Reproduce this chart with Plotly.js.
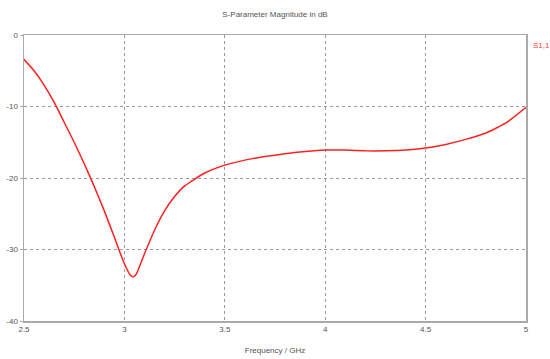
<!DOCTYPE html>
<html>
<head>
<meta charset="utf-8">
<script src="https://cdn.plot.ly/plotly-3.0.1.min.js"></script>
<style>html,body{margin:0;padding:0;background:#fff;}#chart{width:550px;height:359px;}</style>
</head>
<body>
<div id="chart"></div>
<script>
const freqGHz = [2.5, 2.55, 2.6, 2.65, 2.7, 2.75, 2.8, 2.85, 2.9, 2.95, 3.0, 3.03, 3.045, 3.06, 3.1, 3.15, 3.2, 3.25, 3.3, 3.4, 3.5, 3.6, 3.7, 3.8, 3.9, 4.0, 4.1, 4.2, 4.3, 4.4, 4.5, 4.6, 4.7, 4.8, 4.9, 5.0];
const s11dB = [-3.4, -5.0, -7.0, -9.4, -12.2, -15.0, -18.0, -21.2, -24.6, -28.3, -32.0, -33.6, -33.8, -33.4, -30.6, -27.3, -24.6, -22.6, -21.1, -19.3, -18.2, -17.5, -17.0, -16.6, -16.3, -16.1, -16.1, -16.2, -16.2, -16.1, -15.8, -15.3, -14.6, -13.7, -12.3, -10.1];
const xTicks = [2.5, 3, 3.5, 4, 4.5, 5];
const yTicks = [0, -10, -20, -30, -40];
const seriesName = "S1,1";

const font = {family: "Liberation Sans, Arial, sans-serif", size: 8, color: "#555"};

Plotly.newPlot("chart", [{
  x: freqGHz, y: s11dB, type: "scatter", mode: "lines", name: seriesName,
  line: {color: "#ff2020", width: 1.5, shape: "spline", smoothing: 0.5},
  showlegend: false
}], {
  width: 550, height: 359,
  margin: {l: 24, r: 24, t: 35, b: 38},
  paper_bgcolor: "#fff", plot_bgcolor: "#fff",
  font: font,
  title: {text: "S-Parameter Magnitude in dB", font: {family: font.family, size: 8, color: "#555"}, x: 0.5, xanchor: "center", y: 0.96, yanchor: "middle"},
  xaxis: {
    range: [2.5, 5], tickvals: xTicks, ticktext: xTicks.map(String),
    showgrid: true, gridcolor: "#999", griddash: "dot", gridwidth: 1,
    showline: true, linecolor: "#aaa", linewidth: 1.5, mirror: true,
    ticks: "", zeroline: false, tickfont: font,
    title: {text: "Frequency / GHz", font: font, standoff: 14}
  },
  yaxis: {
    range: [-40, 0], tickvals: yTicks, ticktext: yTicks.map(String),
    showgrid: true, gridcolor: "#999", griddash: "dot", gridwidth: 1,
    showline: true, linecolor: "#aaa", linewidth: 1.5, mirror: true,
    ticks: "outside", ticklen: 3, tickcolor: "#aaa", zeroline: false, tickfont: font
  },
  annotations: [{
    text: seriesName, xref: "paper", yref: "paper", x: 1, y: 1, xanchor: "left", yanchor: "top",
    xshift: 5, yshift: -4, showarrow: false, font: {family: font.family, size: 8, color: "#ff4040"}
  }]
}, {staticPlot: true, displayModeBar: false});
</script>
</body>
</html>
